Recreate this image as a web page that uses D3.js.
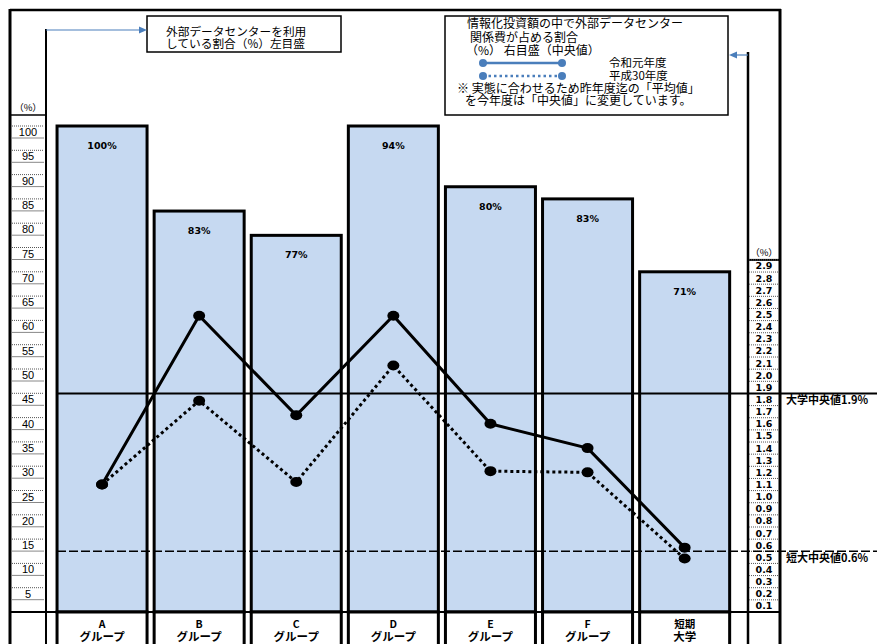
<!DOCTYPE html>
<html>
<head>
<meta charset="utf-8">
<script src="https://cdn.jsdelivr.net/npm/d3@7"></script>
<style>
  body{margin:0;background:#fff;}
  svg{display:block;}
  .jp{font-family:"Noto Sans CJK JP","Noto Sans",sans-serif;}
  .num{font-family:"Liberation Sans",Arial,sans-serif;}
  .heavy{font-family:"DejaVu Sans",sans-serif;font-weight:bold;}
</style>
</head>
<body>
<div id="chart"></div>
<script>
// data
var categories = ["A", "B", "C", "D", "E", "F", "短期"];
var categorySub = ["グループ", "グループ", "グループ", "グループ", "グループ", "グループ", "大学"];
var usageHeights = [100, 82.5, 77.5, 100, 87.5, 85, 70];   // bar tops as drawn (left axis %)
var usageLabels = ["100%", "83%", "77%", "94%", "80%", "83%", "71%"];
var share2019 = [1.05, 2.44, 1.62, 2.44, 1.55, 1.35, 0.53];  // 令和元年度 (right axis %)
var share2018 = [1.05, 1.74, 1.07, 2.03, 1.16, 1.15, 0.44];  // 平成30年度
var leftTicks = [5, 10, 15, 20, 25, 30, 35, 40, 45, 50, 55, 60, 65, 70, 75, 80, 85, 90, 95, 100];
var rightTicks = [0.1, 0.2, 0.3, 0.4, 0.5, 0.6, 0.7, 0.8, 0.9, 1.0, 1.1, 1.2, 1.3, 1.4, 1.5,
  1.6, 1.7, 1.8, 1.9, 2.0, 2.1, 2.2, 2.3, 2.4, 2.5, 2.6, 2.7, 2.8, 2.9];
var medianValues = [1.8, 0.5];
var medianLabels = ["大学中央値1.9%", "短大中央値0.6%"];
var legendSeries = ["令和元年度", "平成30年度"];

var width = 890, height = 644;
var base = 612;

var svg = d3.select('#chart').append('svg').attr('width', width).attr('height', height);

var x = d3.scaleBand().domain(categories).range([53.5, 733.2]).paddingInner(0.073).paddingOuter(0.0365);
var yL = d3.scaleLinear().domain([0, 100]).range([base, 126]);
var yR = d3.scaleLinear().domain([0, 2.9]).range([base, 259.9]);

// bars + category cells
svg.selectAll('rect.bar').data(usageHeights).enter().append('rect')
  .attr('class', 'bar')
  .attr('x', function(d, i){ return x(categories[i]); })
  .attr('y', function(d){ return yL(d); })
  .attr('width', x.bandwidth())
  .attr('height', function(d){ return base - yL(d); })
  .attr('fill', '#c6d9f1').attr('stroke', '#000').attr('stroke-width', 3);

svg.selectAll('rect.cell').data(categories).enter().append('rect')
  .attr('class', 'cell')
  .attr('x', function(d){ return x(d); })
  .attr('y', base)
  .attr('width', x.bandwidth())
  .attr('height', 50)
  .attr('fill', '#fff').attr('stroke', '#000').attr('stroke-width', 3);

svg.selectAll('text.barlab').data(usageLabels).enter().append('text')
  .attr('class', 'heavy')
  .attr('x', function(d, i){ return x(categories[i]) + x.bandwidth() / 2; })
  .attr('y', function(d, i){ return yL(usageHeights[i]) + 23; })
  .attr('text-anchor', 'middle').attr('font-size', 9.5)
  .text(function(d){ return d; });

svg.selectAll('text.cat1').data(categories).enter().append('text')
  .attr('class', 'jp')
  .attr('x', function(d){ return x(d) + x.bandwidth() / 2; })
  .attr('y', 628)
  .attr('text-anchor', 'middle').attr('font-size', 10.5).attr('font-weight', 'bold')
  .text(function(d){ return d; });
svg.selectAll('text.cat2').data(categorySub).enter().append('text')
  .attr('class', 'jp')
  .attr('x', function(d, i){ return x(categories[i]) + x.bandwidth() / 2; })
  .attr('y', 641)
  .attr('text-anchor', 'middle').attr('font-size', 11.5).attr('font-weight', 'bold')
  .text(function(d){ return d; });

// frame
svg.append('line').attr('x1', 10).attr('y1', 10).attr('x2', 781).attr('y2', 10).attr('stroke', '#000').attr('stroke-width', 2.5);
svg.append('line').attr('x1', 10).attr('y1', 9).attr('x2', 10).attr('y2', 644).attr('stroke', '#000').attr('stroke-width', 3);
svg.append('line').attr('x1', 780).attr('y1', 9).attr('x2', 780).attr('y2', 644).attr('stroke', '#000').attr('stroke-width', 3);
svg.append('line').attr('x1', 46).attr('y1', 29).attr('x2', 46).attr('y2', 644).attr('stroke', '#000').attr('stroke-width', 2);
svg.append('line').attr('x1', 748).attr('y1', 52).attr('x2', 748).attr('y2', 644).attr('stroke', '#000').attr('stroke-width', 2.5);
svg.append('line').attr('x1', 10).attr('y1', 115).attr('x2', 46).attr('y2', 115).attr('stroke', '#000').attr('stroke-width', 1.5);
svg.append('line').attr('x1', 748).attr('y1', yR(2.9)).attr('x2', 780).attr('y2', yR(2.9)).attr('stroke', '#000').attr('stroke-width', 2);
svg.append('line').attr('x1', 10).attr('y1', base).attr('x2', 780).attr('y2', base).attr('stroke', '#000').attr('stroke-width', 2);

// left axis
var lg = svg.append('g');
lg.selectAll('line.top').data(leftTicks).enter().append('line')
  .attr('x1', 12).attr('x2', 44)
  .attr('y1', function(d){ return yL(d); }).attr('y2', function(d){ return yL(d); })
  .attr('stroke', '#555').attr('stroke-dasharray', '1,1');
lg.selectAll('line.bot').data(leftTicks).enter().append('line')
  .attr('x1', 12).attr('x2', 44)
  .attr('y1', function(d){ return yL(d) + 12; }).attr('y2', function(d){ return yL(d) + 12; })
  .attr('stroke', '#888');
lg.selectAll('text').data(leftTicks).enter().append('text')
  .attr('class', 'num')
  .attr('x', 28).attr('y', function(d){ return yL(d) + 10; })
  .attr('text-anchor', 'middle').attr('font-size', 11)
  .text(function(d){ return d; });
svg.append('text').attr('class', 'jp').attr('x', 28).attr('y', 111).attr('text-anchor', 'middle')
  .attr('font-size', 9.5).text('（%）');

// right axis
var rg = svg.append('g');
rg.selectAll('line').data(rightTicks).enter().append('line')
  .attr('x1', 749).attr('x2', 779)
  .attr('y1', function(d){ return yR(d); }).attr('y2', function(d){ return yR(d); })
  .attr('stroke', '#555').attr('stroke-dasharray', '1,1');
rg.selectAll('text').data(rightTicks).enter().append('text')
  .attr('class', 'heavy')
  .attr('x', 764).attr('y', function(d){ return yR(d) + 9.5; })
  .attr('text-anchor', 'middle').attr('font-size', 9.5)
  .text(function(d){ return d.toFixed(1); });
svg.append('text').attr('class', 'jp').attr('x', 764).attr('y', 256).attr('text-anchor', 'middle')
  .attr('font-size', 9.5).text('（%）');

// median lines
svg.selectAll('line.median').data(medianValues).enter().append('line')
  .attr('x1', 57).attr('x2', 877)
  .attr('y1', function(d){ return yR(d); }).attr('y2', function(d){ return yR(d); })
  .attr('stroke', '#000')
  .attr('stroke-width', function(d, i){ return i == 0 ? 2 : 1.5; })
  .attr('stroke-dasharray', function(d, i){ return i == 0 ? null : '9,3'; });
svg.selectAll('text.median').data(medianLabels).enter().append('text')
  .attr('class', 'jp')
  .attr('x', 786).attr('y', function(d, i){ return yR(medianValues[i]) + 10.5; })
  .attr('font-size', 11).attr('font-weight', 'bold')
  .text(function(d){ return d; });

// series lines
var cx = function(d, i){ return x(categories[i]) + x.bandwidth() / 2; };
var line = d3.line().x(cx).y(function(d){ return yR(d); });
svg.append('path').datum(share2018).attr('d', line)
  .attr('fill', 'none').attr('stroke', '#000').attr('stroke-width', 3).attr('stroke-dasharray', '3,3');
svg.append('path').datum(share2019).attr('d', line)
  .attr('fill', 'none').attr('stroke', '#000').attr('stroke-width', 3);
[share2018, share2019].forEach(function(s){
  svg.append('g').selectAll('ellipse').data(s).enter().append('ellipse')
    .attr('cx', cx).attr('cy', function(d){ return yR(d); })
    .attr('rx', 6).attr('ry', 5).attr('fill', '#000');
});

// legend 1
var blue = '#4a7ebb';
svg.append('rect').attr('x', 147).attr('y', 16).attr('width', 194).attr('height', 36)
  .attr('fill', '#fff').attr('stroke', '#000').attr('stroke-width', 1.5);
svg.append('text').attr('class', 'jp').attr('x', 166).attr('y', 36).attr('font-size', 11.7).text('外部データセンターを利用');
svg.append('text').attr('class', 'jp').attr('x', 166).attr('y', 48).attr('font-size', 11.7).text('している割合（%）左目盛');
svg.append('line').attr('x1', 46).attr('y1', 30).attr('x2', 140).attr('y2', 30).attr('stroke', blue).attr('stroke-width', 1.2);
svg.append('path').attr('d', 'M139,26.5L147,30L139,33.5Z').attr('fill', blue);

// legend 2
svg.append('rect').attr('x', 445).attr('y', 16).attr('width', 283).attr('height', 99)
  .attr('fill', '#fff').attr('stroke', '#000').attr('stroke-width', 1.5);
var lt = [
  {t: '情報化投資額の中で外部データセンター', x: 467, y: 27.5},
  {t: '関係費が占める割合', x: 470, y: 41.5},
  {t: '（%） 右目盛（中央値）', x: 466, y: 54.5},
  {t: '※ 実態に合わせるため昨年度迄の「平均値」', x: 457, y: 92.5},
  {t: 'を今年度は「中央値」に変更しています。', x: 465, y: 104.5}
];
svg.selectAll('text.lg2').data(lt).enter().append('text')
  .attr('class', 'jp').attr('font-size', 12)
  .attr('x', function(d){ return d.x; }).attr('y', function(d){ return d.y; })
  .text(function(d){ return d.t; });
legendSeries.forEach(function(name, i){
  var yy = 63 + i * 13;
  svg.append('line').attr('x1', 483).attr('x2', 562).attr('y1', yy).attr('y2', yy)
    .attr('stroke', blue).attr('stroke-width', 2.5)
    .attr('stroke-dasharray', i == 0 ? null : '2.5,3');
  svg.append('circle').attr('cx', 483).attr('cy', yy).attr('r', 4).attr('fill', blue);
  svg.append('circle').attr('cx', 562).attr('cy', yy).attr('r', 4).attr('fill', blue);
  svg.append('text').attr('class', 'jp').attr('x', 609).attr('y', yy + 4).attr('font-size', 11.5).text(name);
});
svg.append('line').attr('x1', 748).attr('y1', 55).attr('x2', 737).attr('y2', 55).attr('stroke', blue).attr('stroke-width', 1.2);
svg.append('path').attr('d', 'M737,51.5L729,55L737,58.5Z').attr('fill', blue);
</script>
</body>
</html>
